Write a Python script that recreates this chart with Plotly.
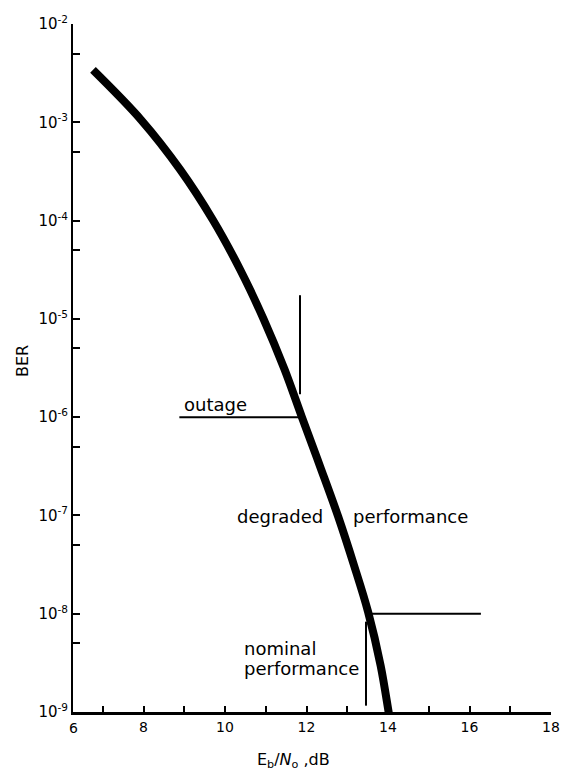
import plotly.graph_objects as go

# ---- data ----
ebno_db = [6.76, 7.94, 8.90, 9.70, 10.37, 10.95, 11.46, 11.88, 12.33, 12.78, 13.17, 13.51, 13.82, 14.01, 14.05]
ber = [3.41e-3, 1.06e-3, 3.30e-4, 1.02e-4, 3.18e-5, 9.9e-6, 3.07e-6, 1.02e-6, 3.18e-7,
       9.66e-8, 3.07e-8, 1.05e-8, 2.96e-9, 1.03e-9, 8.2e-10]

outage_h_x = [8.88, 11.87]
outage_h_y = [1e-6, 1e-6]
outage_v_x = [11.84, 11.84]
outage_v_y = [1.74e-5, 1.71e-6]

nominal_h_x = [13.55, 16.28]
nominal_h_y = [1e-8, 1e-8]
nominal_v_x = [13.46, 13.46]
nominal_v_y = [8.3e-9, 1.16e-9]

x_tick_values = [8, 10, 12, 14, 16, 18]
x_tick_labels = ["8", "10", "12", "14", "16", "18"]
x_minor_values = [7, 9, 11, 13, 15, 17]
x_origin_label = "6"
y_tick_values = [1e-2, 1e-3, 1e-4, 1e-5, 1e-6, 1e-7, 1e-8, 1e-9]
y_tick_labels = ["10<sup>-2</sup>", "10<sup>-3</sup>", "10<sup>-4</sup>", "10<sup>-5</sup>",
                 "10<sup>-6</sup>", "10<sup>-7</sup>", "10<sup>-8</sup>", "10<sup>-9</sup>"]
y_minor_values = [5e-3, 5e-4, 5e-5, 5e-6, 5e-7, 5e-8, 5e-9]

FONT = "DejaVu Sans"

fig = go.Figure()
fig.add_trace(go.Scatter(x=ebno_db, y=ber, mode="lines",
                         line=dict(color="black", width=8, shape="spline", smoothing=1.0),
                         showlegend=False, hoverinfo="skip"))
for xs, ys in [(outage_h_x, outage_h_y), (outage_v_x, outage_v_y),
               (nominal_h_x, nominal_h_y), (nominal_v_x, nominal_v_y)]:
    fig.add_trace(go.Scatter(x=xs, y=ys, mode="lines",
                             line=dict(color="black", width=2), showlegend=False,
                             hoverinfo="skip"))

ann_font = dict(family=FONT, size=18, color="black")
fig.add_annotation(x=9.77, y=-5.868, xref="x", yref="y", text="outage",
                   showarrow=False, font=ann_font, xanchor="center", yanchor="middle")
fig.add_annotation(x=11.35, y=-7.015, xref="x", yref="y", text="degraded",
                   showarrow=False, font=ann_font, xanchor="center", yanchor="middle")
fig.add_annotation(x=14.55, y=-7.015, xref="x", yref="y", text="performance",
                   showarrow=False, font=ann_font, xanchor="center", yanchor="middle")
fig.add_annotation(x=10.42, y=-8.355, xref="x", yref="y", text="nominal",
                   showarrow=False, font=ann_font, xanchor="left", yanchor="middle")
fig.add_annotation(x=10.42, y=-8.558, xref="x", yref="y", text="performance",
                   showarrow=False, font=ann_font, xanchor="left", yanchor="middle")

# axis titles and origin label
fig.add_annotation(x=0, y=0.5, xref="paper", yref="paper", text="BER", textangle=-90,
                   showarrow=False, xshift=-51, yshift=7, xanchor="center", yanchor="middle",
                   font=dict(family=FONT, size=16, color="black"))
fig.add_annotation(x=0.462, y=0, xref="paper", yref="paper",
                   text="E<sub>b</sub>/<i>N</i><sub>o</sub> ,dB",
                   showarrow=False, yshift=-48, xanchor="center", yanchor="middle",
                   font=dict(family=FONT, size=16, color="black"))
fig.add_annotation(x=0, y=0, xref="paper", yref="paper", text=x_origin_label,
                   showarrow=False, yshift=-16, xanchor="center", yanchor="middle",
                   font=dict(family=FONT, size=14, color="black"))

fig.update_xaxes(range=[6.27, 18.0], tickmode="array", tickvals=x_tick_values,
                 ticktext=x_tick_labels, ticks="inside", ticklen=6, tickwidth=2,
                 tickcolor="black", showline=True, linecolor="black", linewidth=3,
                 showgrid=False, zeroline=False, ticklabeloverflow="allow",
                 minor=dict(tickvals=x_minor_values, ticks="inside", ticklen=6,
                            tickwidth=2, tickcolor="black", showgrid=False),
                 tickfont=dict(family=FONT, size=14, color="black"))
fig.update_yaxes(type="log", range=[-9, -2], tickmode="array", tickvals=y_tick_values,
                 ticktext=y_tick_labels, ticks="inside", ticklen=7, tickwidth=2,
                 tickcolor="black", showline=True, linecolor="black", linewidth=2,
                 showgrid=False, zeroline=False,
                 minor=dict(tickvals=y_minor_values, ticks="inside", ticklen=7,
                            tickwidth=2, tickcolor="black", showgrid=False),
                 tickfont=dict(family=FONT, size=15, color="black"))

fig.update_layout(width=562, height=775, margin=dict(l=73, r=2, t=24, b=63),
                  paper_bgcolor="white", plot_bgcolor="white",
                  font=dict(family=FONT, color="black"))

# remove the page's default body margin so the figure fills the 562x775 window exactly
fig.write_html("out.html",
               config={"displayModeBar": False},
               post_script="document.documentElement.style.margin='0';"
                           "document.body.style.margin='0';"
                           "document.body.style.overflow='hidden';")
